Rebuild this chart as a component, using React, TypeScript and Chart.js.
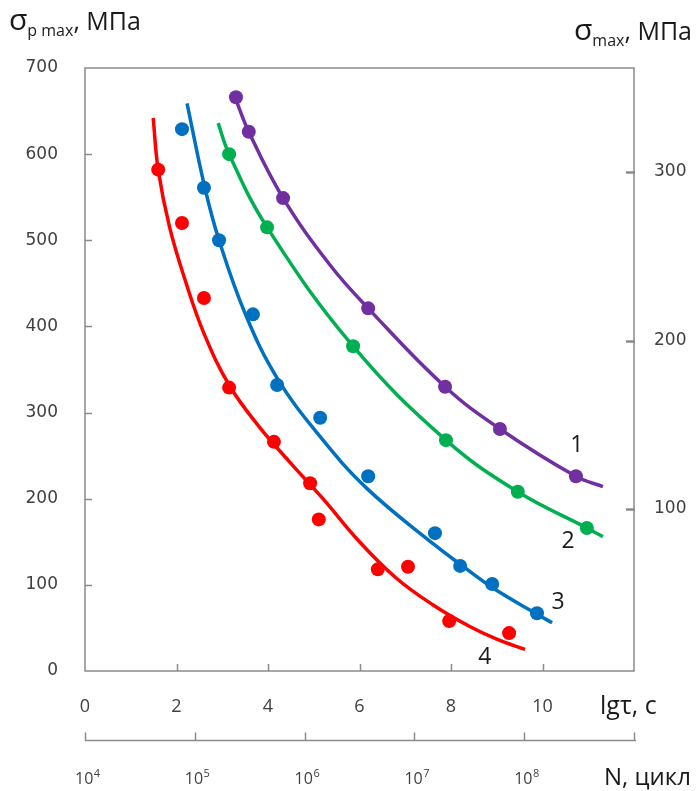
import React, { useEffect, useRef } from 'react';
import { Chart, registerables } from 'chart.js';

Chart.register(...registerables);

// ---- axis definitions ----
const X_MIN = 0;
const X_MAX = 12;
const X_STEP = 2;
const Y_MIN = 0;
const Y_MAX = 700;
const Y_STEP = 100;
const RIGHT_TICKS = [100, 200, 300];
const RIGHT_MIN = 3.9;
const RIGHT_MAX = 361.7;
const N_TICKS = [1e4, 1e5, 1e6, 1e7, 1e8, 1e9];
const N_BASE = ['10', '10', '10', '10', '10', ''];
const N_EXP = ['4', '5', '6', '7', '8', ''];

// ---- series 1 (purple) ----
const CURVE1_X = [3.28, 3.58, 4.33, 5.36, 6.19, 7.87, 9.07, 10.73, 11.32];
const CURVE1_Y = [666, 626, 549, 471, 421, 330, 281, 226, 214];
const POINTS1_X = [3.30, 3.58, 4.33, 6.19, 7.87, 9.07, 10.73];
const POINTS1_Y = [666, 626, 549, 421, 330, 281, 226];

// ---- series 2 (green) ----
const CURVE2_X = [2.91, 3.15, 3.98, 5.86, 7.89, 9.46, 10.97, 11.32];
const CURVE2_Y = [636, 600, 515, 377, 268, 208, 166, 156];
const POINTS2_X = [3.15, 3.98, 5.86, 7.89, 9.46, 10.97];
const POINTS2_Y = [600, 515, 377, 268, 208, 166];

// ---- series 3 (blue) ----
const CURVE3_X = [2.23, 2.62, 2.93, 3.50, 4.20, 5.14, 6.16, 7.65, 8.20, 8.90, 9.88, 10.21];
const CURVE3_Y = [659, 561, 500, 415, 340, 272, 212, 146, 124, 97, 66, 56];
const POINTS3_X = [2.12, 2.60, 2.93, 3.67, 4.20, 5.14, 6.19, 7.65, 8.20, 8.90, 9.88];
const POINTS3_Y = [629, 561, 500, 414, 332, 294, 226, 160, 122, 101, 67];

// ---- series 4 (red) ----
const CURVE4_X = [1.49, 1.60, 1.85, 2.20, 2.60, 3.15, 3.80, 4.50, 5.20, 6.00, 6.80, 7.60, 8.40, 9.00, 9.62];
const CURVE4_Y = [642, 582, 515, 452, 392, 332, 284, 241, 200, 150, 108, 77, 52, 37, 25];
const POINTS4_X = [1.60, 2.12, 2.60, 3.15, 4.13, 4.92, 5.11, 6.40, 7.06, 7.96, 9.27];
const POINTS4_Y = [582, 520, 433, 329, 266, 218, 176, 118, 121, 58, 44];

// ---- curve labels ----
const LABEL_TEXT = ['1', '2', '3', '4'];
const LABEL_X = [10.75, 10.56, 10.34, 8.74];
const LABEL_Y = [262, 150, 79, 16];

const COLORS = ['#7030A0', '#00B050', '#0070C0', '#FF0000'];
const AXIS_COLOR = '#8a8a8a';
const TICK_COLOR = '#404040';
const TEXT_COLOR = '#1a1a1a';

const zip = (xs: number[], ys: number[]) => xs.map((x, i) => ({ x, y: ys[i] }));

const SERIES = [
  { cx: CURVE1_X, cy: CURVE1_Y, px: POINTS1_X, py: POINTS1_Y },
  { cx: CURVE2_X, cy: CURVE2_Y, px: POINTS2_X, py: POINTS2_Y },
  { cx: CURVE3_X, cy: CURVE3_Y, px: POINTS3_X, py: POINTS3_Y },
  { cx: CURVE4_X, cy: CURVE4_Y, px: POINTS4_X, py: POINTS4_Y },
];

const decorPlugin = {
  id: 'decor',
  beforeDatasetsDraw(chart: any) {
    const { ctx, chartArea: a, scales } = chart;
    ctx.save();
    ctx.strokeStyle = AXIS_COLOR;
    ctx.lineWidth = 1.5;
    ctx.strokeRect(a.left, a.top, a.right - a.left, a.bottom - a.top);
    ctx.beginPath();
    scales.x.ticks.forEach((t: any) => {
      if (t.value <= X_MIN || t.value >= X_MAX) return;
      const p = Math.round(scales.x.getPixelForValue(t.value)) + 0.5;
      ctx.moveTo(p, a.bottom);
      ctx.lineTo(p, a.bottom - 7);
    });
    scales.y.ticks.forEach((t: any) => {
      if (t.value <= Y_MIN || t.value >= Y_MAX) return;
      const p = Math.round(scales.y.getPixelForValue(t.value)) + 0.5;
      ctx.moveTo(a.left, p);
      ctx.lineTo(a.left + 7, p);
    });
    ctx.stroke();
    ctx.beginPath();
    ctx.lineWidth = 2.5;
    scales.y2.ticks.forEach((t: any) => {
      const p = Math.round(scales.y2.getPixelForValue(t.value)) + 0.5;
      ctx.moveTo(a.right - 8, p);
      ctx.lineTo(a.right + 1, p);
    });
    ctx.stroke();
    const n = scales.xN;
    const ny = Math.round(n.top) + 0.5;
    ctx.beginPath();
    ctx.lineWidth = 1.5;
    ctx.moveTo(n.left, ny);
    ctx.lineTo(n.right + 2, ny);
    N_TICKS.forEach((v) => {
      const p = Math.round(n.getPixelForValue(v)) + 0.5;
      ctx.moveTo(p, ny);
      ctx.lineTo(p, ny - 8);
    });
    ctx.stroke();
    ctx.restore();
  },
  afterDraw(chart: any) {
    const { ctx, scales } = chart;
    ctx.save();
    ctx.fillStyle = TEXT_COLOR;
    ctx.textBaseline = 'alphabetic';
    ctx.textAlign = 'left';
    // left title
    let x = 9;
    ctx.font = '30px "Open Sans"';
    ctx.fillText('σ', x, 30);
    x += ctx.measureText('σ').width;
    ctx.font = '16px "Open Sans"';
    ctx.fillText('p max', x, 36);
    x += ctx.measureText('p max').width;
    ctx.font = '25px "Open Sans"';
    ctx.fillText(', МПа', x, 30);
    // right title
    x = 574;
    ctx.font = '30px "Open Sans"';
    ctx.fillText('σ', x, 40);
    x += ctx.measureText('σ').width;
    ctx.font = '16px "Open Sans"';
    ctx.fillText('max', x, 46);
    x += ctx.measureText('max').width;
    ctx.font = '25px "Open Sans"';
    ctx.fillText(', МПа', x, 40);
    // axis titles
    ctx.font = '25px "Open Sans"';
    ctx.fillText('lgτ, c', 600, 714);
    ctx.font = '24px "Open Sans"';
    ctx.fillText('N, цикл', 604, 785);
    // N tick labels
    ctx.fillStyle = TICK_COLOR;
    N_TICKS.forEach((v, i) => {
      if (!N_BASE[i]) return;
      const p = scales.xN.getPixelForValue(v);
      ctx.font = '16px "Open Sans"';
      const w = ctx.measureText(N_BASE[i]).width;
      ctx.fillText(N_BASE[i], p - 10, 784);
      ctx.font = '11px "Open Sans"';
      ctx.fillText(N_EXP[i], p - 10 + w + 0.5, 777);
    });
    // curve labels
    ctx.fillStyle = TEXT_COLOR;
    ctx.font = '23px "Open Sans"';
    ctx.textAlign = 'center';
    ctx.textBaseline = 'middle';
    LABEL_TEXT.forEach((t, i) => {
      ctx.fillText(t, scales.x.getPixelForValue(LABEL_X[i]), scales.y.getPixelForValue(LABEL_Y[i]));
    });
    ctx.restore();
  },
};

export default function App() {
  const ref = useRef<HTMLCanvasElement>(null);
  useEffect(() => {
    if (!ref.current) return;
    const datasets: any[] = [];
    SERIES.forEach((s, i) => {
      datasets.push({
        type: 'line',
        data: zip(s.px, s.py),
        showLine: false,
        pointRadius: 7,
        pointHoverRadius: 7,
        pointBackgroundColor: COLORS[i],
        pointBorderWidth: 0,
        borderColor: COLORS[i],
        order: 0,
      });
      datasets.push({
        type: 'line',
        data: zip(s.cx, s.cy),
        borderColor: COLORS[i],
        borderWidth: 3.5,
        pointRadius: 0,
        tension: 0.4,
        fill: false,
        order: 1,
      });
    });
    const chart = new Chart(ref.current, {
      type: 'line',
      data: { datasets },
      plugins: [decorPlugin],
      options: {
        animation: false,
        responsive: false,
        events: [],
        layout: { padding: { top: 68, left: 0, right: 0, bottom: 0 } },
        plugins: { legend: { display: false }, tooltip: { enabled: false } },
        scales: {
          x: {
            type: 'linear',
            position: 'bottom',
            weight: 0,
            min: X_MIN,
            max: X_MAX,
            grid: { display: false },
            border: { display: false },
            ticks: {
              stepSize: X_STEP,
              padding: 17,
              color: TICK_COLOR,
              font: { family: '"Open Sans"', size: 18 },
              maxRotation: 0,
              autoSkip: false,
              callback: (v: any) => (v >= X_MAX ? '' : String(v)),
            },
            afterFit: (s: any) => { s.height = 69; },
          },
          xN: {
            type: 'logarithmic',
            position: 'bottom',
            weight: 1,
            min: N_TICKS[0],
            max: N_TICKS[N_TICKS.length - 1],
            grid: { display: false },
            border: { display: false },
            afterBuildTicks: (s: any) => { s.ticks = N_TICKS.map((v) => ({ value: v })); },
            ticks: { display: false },
            afterFit: (s: any) => { s.height = 51; },
          },
          y: {
            type: 'linear',
            position: 'left',
            min: Y_MIN,
            max: Y_MAX,
            grid: { display: false },
            border: { display: false },
            ticks: {
              stepSize: Y_STEP,
              padding: 19,
              color: TICK_COLOR,
              font: { family: '"DejaVu Sans"', size: 17 },
            },
            afterFit: (s: any) => { s.width = 85; },
          },
          y2: {
            type: 'linear',
            position: 'right',
            min: RIGHT_MIN,
            max: RIGHT_MAX,
            grid: { display: false },
            border: { display: false },
            afterBuildTicks: (s: any) => { s.ticks = RIGHT_TICKS.map((v) => ({ value: v })); },
            ticks: {
              padding: 12,
              color: TICK_COLOR,
              font: { family: '"DejaVu Sans"', size: 17 },
            },
            afterFit: (s: any) => { s.width = 64; },
          },
        },
      } as any,
    });
    return () => chart.destroy();
  }, []);
  return (
    <div style={{ position: 'absolute', left: 0, top: 0, width: 698, height: 791, background: '#fff' }}>
      <canvas ref={ref} width={698} height={791} />
    </div>
  );
}
